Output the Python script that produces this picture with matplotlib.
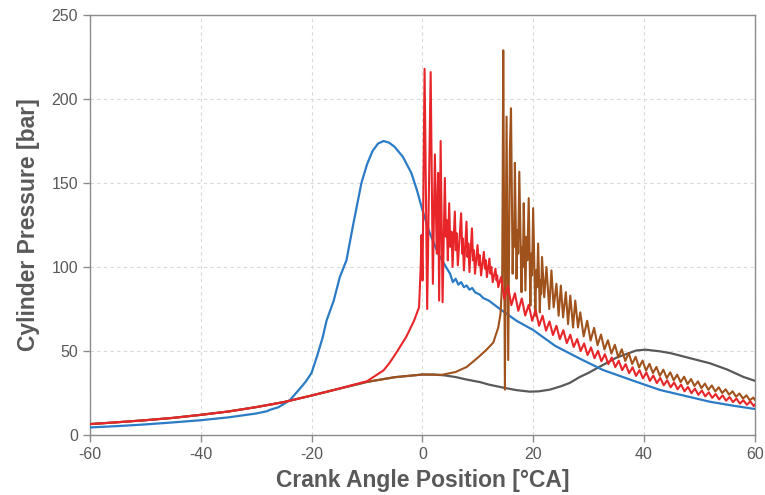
import matplotlib.pyplot as plt

plt.rcParams['font.family'] = ['Liberation Sans', 'DejaVu Sans']
plt.rcParams['axes.unicode_minus'] = False

# Motored (no combustion) trace
motored_x = [-60, -55, -50, -45, -40, -35, -30, -25, -20, -15, -10, -5, 0, 2, 4, 6, 8,
             10.4, 12, 14.9, 17, 19.4, 21, 23, 25, 26.6, 28.4, 30, 32.6, 35, 38.6, 40.3,
             42.9, 44.7, 48, 51.9, 55, 58, 60]
motored_y = [6.5, 7.6, 8.8, 10.2, 12.0, 14.0, 16.6, 19.6, 23.5, 27.6, 31.6, 34.4, 36.0, 36.0,
             35.5, 34.5, 33.0, 31.5, 30.0, 28.0, 26.7, 25.8, 26.0, 27.0, 29.0, 31.0, 34.5, 37.0,
             41.7, 46.0, 50.3, 50.8, 49.8, 48.8, 46.0, 42.7, 39.0, 34.5, 32.3]

# Normal combustion trace
normal_x = [-60, -55, -50, -45, -40, -35, -30, -28, -27.5, -26, -25, -23.9, -22, -21, -20, -19,
            -18, -17.3, -16, -14.9, -13.7, -12.5, -11, -10, -9, -8, -7, -6, -5, -3.5, -2, -1,
            0, 1.35, 3, 5, 5.5, 6, 6.5, 7, 7.5, 8, 8.5, 9, 9.5, 10.4, 11, 12, 13, 14, 17, 20,
            24, 28.4, 32.6, 38.6, 42.9, 46.5, 51.9, 56, 60]
normal_y = [4.5, 5.3, 6.3, 7.5, 8.8, 10.5, 12.8, 14.2, 15.0, 16.5, 18.5, 20.8, 28.0, 32.0, 37.0,
            47.0, 58.0, 68.0, 80.0, 94.0, 104.0, 125.0, 150.0, 161.0, 169.0, 173.5, 175.0, 174.0,
            171.5, 165.5, 156.0, 146.0, 134.0, 120.0, 107.0, 96.0, 91.0, 93.0, 89.5, 91.0, 88.0,
            89.0, 86.5, 87.5, 85.0, 83.5, 81.5, 80.0, 77.5, 75.0, 68.0, 62.5, 53.0, 45.5, 38.7,
            31.7, 26.8, 24.0, 19.8, 17.5, 15.5]

# Early knock trace
knock_x = [-60, -55, -50, -45, -40, -35, -30, -25, -20, -15, -12, -10, -8.3, -7, -5.9, -4.5,
           -2.9, -1.5, -0.6, -0.3, -0.15, 0.03, 0.4, 0.87, 1.5, 1.9, 2.26, 2.6, 2.85, 3.03, 3.3,
           3.65, 4.06, 4.25, 4.4, 4.6, 4.84, 5.05, 5.27, 5.45, 5.86, 6.05, 6.2, 6.4, 7.0, 7.2,
           7.3, 7.5, 7.97, 8.15, 8.3, 8.5, 8.95, 9.15, 9.3, 9.5, 9.96, 10.2, 10.35, 10.6, 11.1,
           11.3, 11.45, 11.65, 12.1, 12.3, 12.45, 12.7, 13.2, 13.4, 13.5, 13.7,
           14.2, 14.8, 15.45, 16.07, 16.7, 17.32, 17.95, 18.57, 19.2, 19.82, 20.45, 21.07,
           21.7, 22.32, 22.95, 23.57, 24.2, 24.82, 25.45, 26.07, 26.7, 27.32, 27.95, 28.57,
           29.2, 29.82, 30.45, 31.07, 31.7, 32.32, 32.95, 33.57, 34.2, 34.82, 35.45, 36.07,
           36.7, 37.32, 37.95, 38.57, 39.2, 39.82, 40.45, 41.07, 41.7, 42.32, 42.95, 43.57,
           44.2, 44.82, 45.45, 46.07, 46.7, 47.32, 47.95, 48.57, 49.2, 49.82, 50.45, 51.07,
           51.7, 52.32, 52.95, 53.57, 54.2, 54.82, 55.45, 56.07, 56.7, 57.32, 57.95, 58.57,
           59.2, 59.82, 60]
knock_y = [6.5, 7.6, 8.8, 10.2, 12.0, 14.0, 16.6, 19.6, 23.5, 27.6, 30.3, 32.0, 35.7, 38.5,
           43.0, 50.0, 58.5, 68.0, 76.0, 100.0, 119.0, 92.0, 218.0, 75.0, 216.0, 90.0, 167.0,
           108.0, 156.0, 80.0, 175.0, 79.0, 153.0, 118.0, 128.0, 104.0, 138.0, 112.0, 121.0,
           100.0, 133.0, 110.0, 120.0, 101.0, 132.0, 108.0, 117.0, 98.0, 127.0, 106.0, 114.0,
           97.0, 123.0, 104.0, 110.0, 96.0, 113.0, 101.0, 107.0, 95.0, 109.0, 99.0, 104.0, 94.0,
           105.0, 96.0, 100.0, 91.0, 99.0, 92.0, 95.0, 88.0,
           94.0, 81.0, 88.6, 77.3, 84.4, 73.9, 81.3, 71.1, 77.5, 68.0, 74.3, 65.0,
           71.0, 62.1, 67.6, 59.5, 65.0, 57.1, 62.4, 54.7, 59.7, 52.4, 57.1, 50.0,
           54.5, 47.6, 52.1, 45.7, 50.1, 43.9, 48.1, 42.2, 46.1, 40.4, 44.2, 38.6,
           42.2, 36.8, 40.3, 35.2, 38.6, 33.7, 37.2, 32.2, 35.4, 30.9, 34.0, 29.6,
           32.6, 28.4, 31.3, 27.2, 30.0, 26.0, 28.6, 24.9, 27.6, 23.9, 26.5, 23.0,
           25.4, 22.1, 24.4, 21.2, 23.6, 20.4, 22.6, 19.6, 21.7, 18.7, 20.7, 18.0,
           20.0, 17.2, 18.0]

# Late knock trace
late_x = [-60, -55, -50, -45, -40, -35, -30, -25, -20, -15, -10, -5, 0, 3.5, 6, 8, 10,
          11.5, 12.8, 13.7, 14.1, 14.4, 14.5, 14.6, 14.9, 15.2, 15.5, 15.8, 16.0, 16.3, 16.45,
          16.55, 16.7, 17.0, 17.2, 17.3, 17.5, 17.9, 18.05, 18.15, 18.3, 18.6, 18.8, 18.95,
          19.2, 19.5, 19.65, 19.8, 20.0, 20.4, 20.55, 20.7, 20.9, 21.2, 21.35, 21.45, 21.6,
          22.0, 22.4, 22.9, 23.3, 23.7, 24.2, 24.6, 25.0, 25.4, 25.9, 26.3, 26.7, 27.2, 27.6,
          28.1,
          28.5, 29.12, 29.75, 30.37, 31.0, 31.62, 32.25, 32.87, 33.5, 34.12, 34.75, 35.37,
          36.0, 36.62, 37.25, 37.87, 38.5, 39.12, 39.75, 40.37, 41.0, 41.62, 42.25, 42.87,
          43.5, 44.12, 44.75, 45.37, 46.0, 46.62, 47.25, 47.87, 48.5, 49.12, 49.75, 50.37,
          51.0, 51.62, 52.25, 52.87, 53.5, 54.12, 54.75, 55.37, 56.0, 56.62, 57.25, 57.87,
          58.5, 59.12, 59.75, 60]
late_y = [6.5, 7.6, 8.8, 10.2, 12.0, 14.0, 16.6, 19.6, 23.5, 27.6, 31.6, 34.4, 36.0, 35.8,
          37.5, 40.5, 46.0, 50.5, 55.0, 64.0, 72.0, 90.0, 150.0, 229.0, 27.0, 189.5, 44.6,
          170.0, 194.5, 96.0, 125.0, 112.0, 162.0, 93.0, 122.0, 108.0, 156.7, 85.0, 112.0,
          100.0, 138.0, 86.0, 118.0, 104.0, 141.0, 77.0, 108.0, 95.0, 135.0, 71.0, 98.0, 88.0,
          114.0, 73.0, 92.0, 84.0, 106.0, 82.0, 100.0, 75.0, 98.0, 76.0, 90.0, 71.0, 89.0,
          70.0, 85.0, 66.0, 83.0, 64.0, 80.0, 64.0,
          73.0, 58.7, 68.0, 56.2, 63.8, 53.5, 59.8, 50.9, 56.4, 48.5, 53.7, 46.2,
          51.0, 44.1, 48.8, 42.3, 46.5, 40.2, 44.3, 38.3, 42.4, 36.9, 40.5, 35.2,
          38.9, 33.9, 37.3, 32.6, 35.9, 31.5, 34.7, 30.3, 33.3, 29.2, 31.9, 27.9,
          30.6, 26.9, 29.5, 25.9, 28.4, 25.0, 27.2, 24.0, 26.0, 22.8, 24.7, 21.7,
          23.6, 20.7, 22.3, 21.0]

grey = '#595959'

fig = plt.figure(figsize=(7.65, 4.95), dpi=100)
ax = fig.add_axes([0.1176, 0.1212, 0.869, 0.8485])

ax.plot(motored_x, motored_y, color='#595959', lw=1.6, zorder=3)
ax.plot(normal_x, normal_y, color='#2b7bc6', lw=1.6, zorder=4)
ax.plot(late_x, late_y, color='#a0521c', lw=1.5, zorder=5)
ax.plot(knock_x, knock_y, color='#e8262a', lw=1.5, zorder=6)

ax.set_xlim(-60, 60)
ax.set_ylim(0, 250)
ax.set_xticks(range(-60, 61, 20))
ax.set_yticks(range(0, 251, 50))
ax.grid(True, color='#d9d9d9', linestyle=(0, (3, 3)), linewidth=0.8)
ax.set_axisbelow(True)

for s in ax.spines.values():
    s.set_color('#8c8c8c')
    s.set_linewidth(1.0)
ax.tick_params(colors='#8c8c8c', labelcolor=grey, labelsize=11.5, length=5, width=1.0)

ax.set_xlabel('Crank Angle Position [°CA]', fontsize=16.5, fontweight='bold', color=grey, labelpad=5)
ax.set_ylabel('Cylinder Pressure [bar]', fontsize=16.5, fontweight='bold', color=grey, labelpad=8)

fig.savefig('out.png', dpi=100)
